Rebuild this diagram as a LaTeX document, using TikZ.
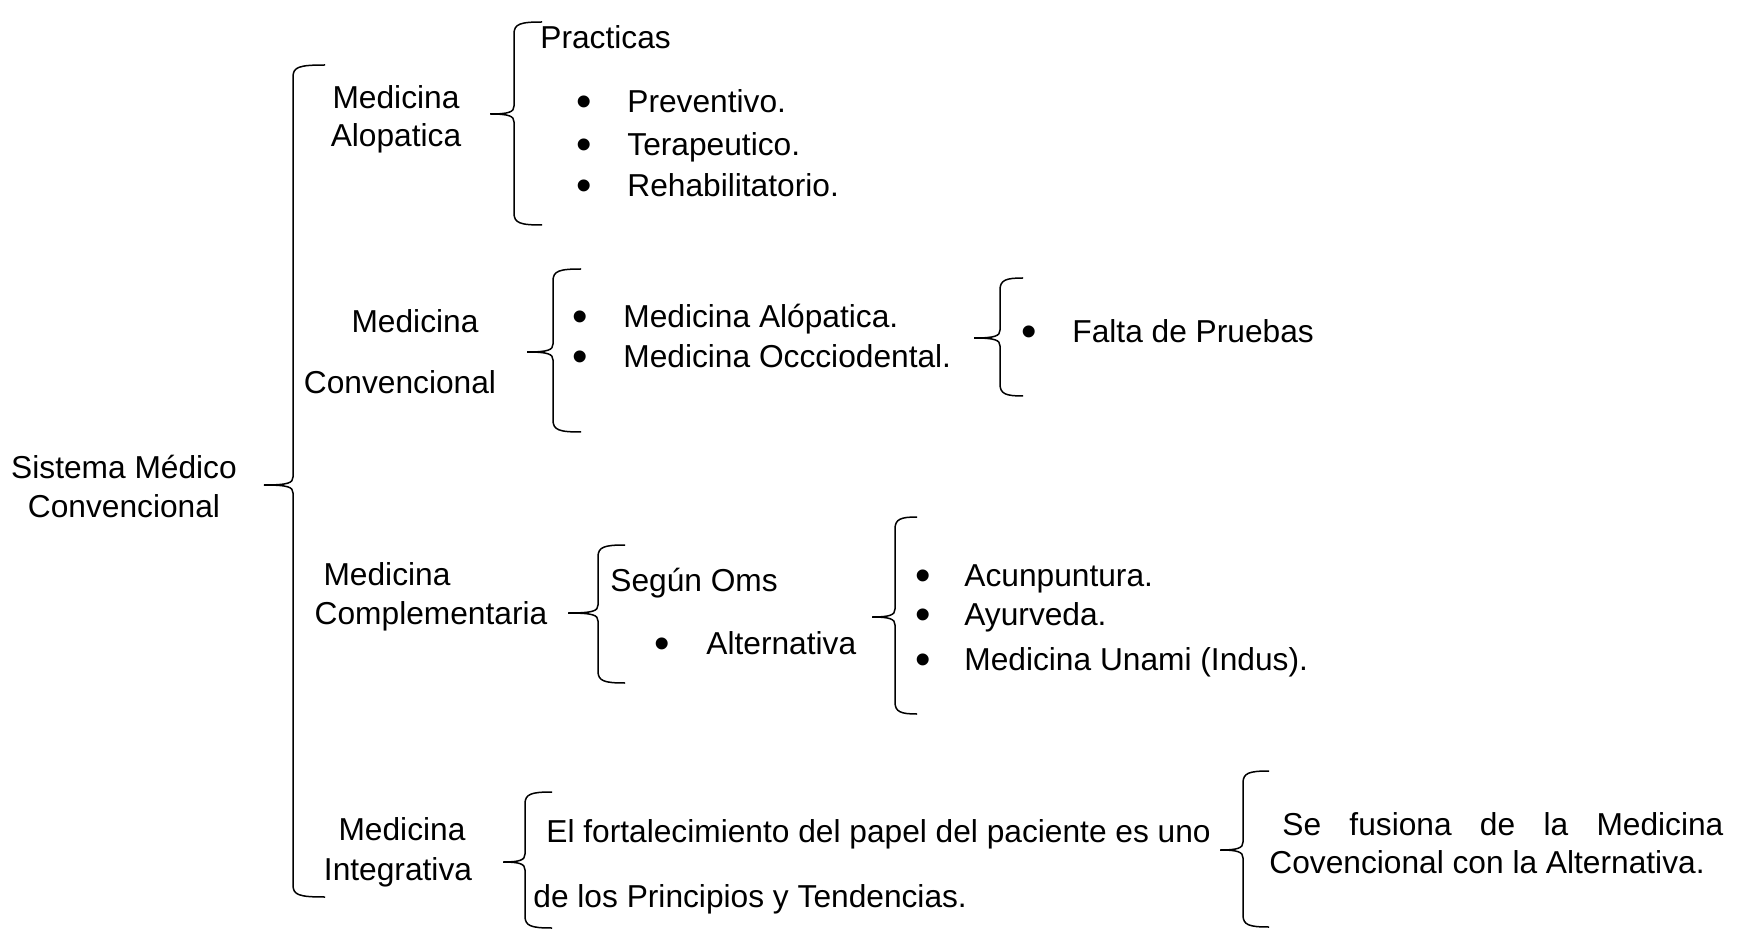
\documentclass[tikz,border=0pt]{standalone}
\usepackage{fontspec}
\setmainfont{Liberation Sans}
% #1 x of vertical, #2 top y, #3 tip y, #4 bottom y, #5 tip length, #6 end length
\newcommand{\mybrace}[6]{%
  \draw[brc] (#1+#6,#2) .. controls (#1+6,#2) and (#1,#2+2) .. (#1,#2+12)
    -- (#1,#3-8) .. controls (#1,#3-2) and (#1-5,#3) .. (#1-#5,#3)
    .. controls (#1-5,#3) and (#1,#3+2) .. (#1,#3+8)
    -- (#1,#4-12) .. controls (#1,#4-2) and (#1+6,#4) .. (#1+#6,#4);}
\tikzset{
  t/.style={font=\fontsize{15.85pt}{19pt}\selectfont, inner sep=0pt, text height=11.35pt, text depth=0pt},
  tl/.style={t, anchor=west},
  bul/.style={font=\fontsize{22pt}{22pt}\selectfont, inner sep=0pt, text height=0pt, text depth=0pt, yshift=-7.8pt},
  brc/.style={line width=0.75pt, black},
}
\begin{document}
\begin{tikzpicture}[x=0.5pt,y=-0.5pt]
\useasboundingbox (0,0) rectangle (1745,930);
% root
\node[t] (smc1) at (124,467) {Sistema Médico};
\node[t] (smc2) at (124,506) {Convencional};
\mybrace{293}{65}{485}{897}{29}{32}
% Medicina Alopatica
\node[t] (ma1) at (396,97) {Medicina};
\node[t] (ma2) at (396,135) {Alopatica};
\mybrace{514}{22}{114}{225}{24}{28}
\node[tl] (prac) at (540,37) {Practicas};
\node[bul] (b1) at (584,101) {•};
\node[bul] (b2) at (584,144) {•};
\node[bul] (b3) at (584,185) {•};
\node[tl] (prev) at (627,101) {Preventivo.};
\node[tl] (tera) at (627,144) {Terapeutico.};
\node[tl] (reha) at (627,185) {Rehabilitatorio.};
% Medicina Convencional
\node[t] (mc1) at (415,321) {Medicina};
\node[t] (mc2) at (400,382) {Convencional};
\mybrace{553}{269}{352}{432}{26}{28}
\node[bul] (b4) at (580,316) {•};
\node[bul] (b5) at (580,356) {•};
\node[tl] (malo) at (623,316) {Medicina Alópatica.};
\node[tl] (mocc) at (623,356) {Medicina Occciodental.};
\mybrace{1000}{278}{338}{396}{26}{23}
\node[bul] (b6) at (1029,331) {•};
\node[tl] (falta) at (1072,331) {Falta de Pruebas};
% Medicina Complementaria
\node[t] (mco1) at (387,574) {Medicina};
\node[t] (mco2) at (431,613) {Complementaria};
\mybrace{598}{545}{613}{683}{30}{27}
\node[tl] (oms) at (610,580) {Según Oms};
\node[bul] (b7) at (662,643) {•};
\node[tl] (alt) at (706,643) {Alternativa};
\mybrace{895}{517}{617}{714}{23}{22}
\node[bul] (b8) at (923,575) {•};
\node[bul] (b9) at (923,614) {•};
\node[bul] (b10) at (923,659) {•};
\node[tl] (acu) at (964,575) {Acunpuntura.};
\node[tl] (ayu) at (964,614) {Ayurveda.};
\node[tl] (una) at (964,659) {Medicina Unami (Indus).};
% Medicina Integrativa
\node[t] (mi1) at (402,829) {Medicina};
\node[t] (mi2) at (398,869) {Integrativa};
\mybrace{525}{792}{862}{928}{22}{27}
\node[tl] (fort1) at (546,831) {El fortalecimiento del papel del paciente es uno};
\node[tl] (fort2) at (533,896) {de los Principios y Tendencias.};
\mybrace{1243}{771}{850}{927}{23}{26}
\node[tl] (fus1) at (1282,824) {\makebox[220.5pt][s]{Se fusiona de la Medicina}};
\node[tl] (fus2) at (1269,862) {Covencional con la Alternativa.};
\end{tikzpicture}
\end{document}
